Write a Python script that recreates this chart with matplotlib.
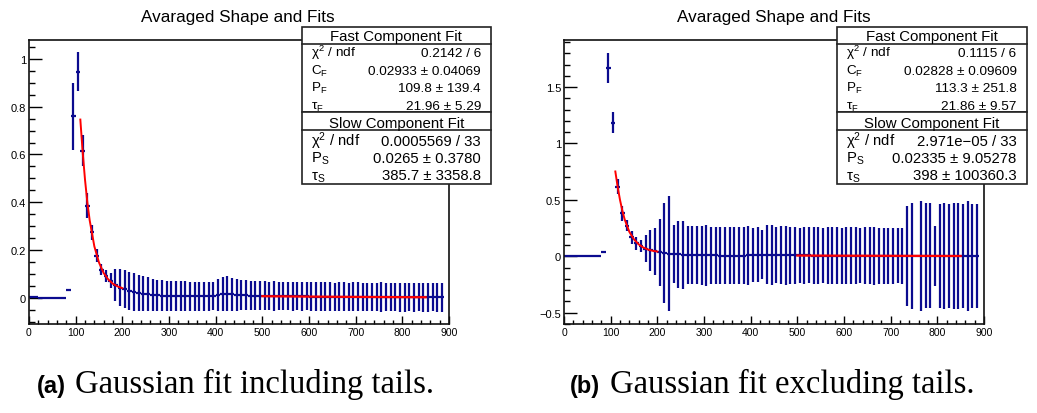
import numpy as np
import matplotlib
matplotlib.use('Agg')
import matplotlib.pyplot as plt
from matplotlib.patches import Rectangle
from matplotlib.lines import Line2D
from matplotlib.ticker import MultipleLocator, FuncFormatter

plt.rcParams['font.family'] = ['Liberation Sans', 'DejaVu Sans']
plt.rcParams['mathtext.default'] = 'regular'

W, H = 1037, 414

##########
# data
##########

# histogram bins of width 10, centres 5 .. 885
bin_centers = np.arange(5, 890, 10)

left_vals = [0.006, 0.005, 0.001, 0.0005, 0.0, 0.0, 0.0, 0.0, 0.035,
             0.759, 0.947, 0.616, 0.386, 0.275, 0.176, 0.118, 0.092, 0.072,
             0.053, 0.043, 0.036, 0.030, 0.025, 0.021, 0.018, 0.015, 0.013, 0.011, 0.010, 0.009,
             0.009, 0.008, 0.008, 0.008, 0.007, 0.007, 0.007, 0.007, 0.007, 0.008,
             0.012, 0.017, 0.017, 0.015, 0.013, 0.012, 0.011, 0.010, 0.010, 0.009,
             0.009, 0.009, 0.008, 0.008, 0.008, 0.008, 0.007, 0.007, 0.007, 0.007,
             0.006, 0.006, 0.006, 0.006, 0.006, 0.005, 0.005, 0.005, 0.005, 0.005,
             0.005, 0.005, 0.004, 0.004, 0.004, 0.004, 0.004, 0.004, 0.004, 0.003,
             0.003, 0.003, 0.003, 0.003, 0.003, 0.003, 0.003, 0.003, 0.003]
left_errs = [0, 0, 0, 0, 0, 0, 0, 0, 0,
             0.14, 0.08, 0.066, 0.052, 0.032, 0.027, 0.022, 0.025, 0.032,
             0.066, 0.078, 0.080, 0.080, 0.078, 0.076, 0.074, 0.071, 0.068, 0.066, 0.064, 0.063,
             0.062, 0.062, 0.061, 0.061, 0.060, 0.060, 0.060, 0.060, 0.060, 0.060,
             0.066, 0.071, 0.073, 0.068, 0.066, 0.064, 0.063, 0.062, 0.062, 0.061,
             0.060, 0.059, 0.061, 0.060, 0.058, 0.060, 0.061, 0.059, 0.060, 0.058,
             0.060, 0.061, 0.059, 0.060, 0.060, 0.058, 0.061, 0.060, 0.059, 0.060,
             0.061, 0.058, 0.060, 0.059, 0.060, 0.061, 0.060, 0.058, 0.059, 0.061,
             0.060, 0.059, 0.060, 0.058, 0.060, 0.061, 0.059, 0.060, 0.060]

right_vals = [0.006, 0.004, 0.001, 0.0, 0.0, 0.0, 0.0, 0.0, 0.035,
              1.67, 1.185, 0.618, 0.381, 0.272, 0.170, 0.115, 0.090, 0.068,
              0.053, 0.043, 0.035, 0.029, 0.024, 0.020, 0.017, 0.014, 0.012, 0.011, 0.010, 0.009,
              0.008, 0.008, 0.008, 0.007, 0.007, 0.007, 0.007, 0.007, 0.007, 0.008,
              0.011, 0.015, 0.016, 0.014, 0.012, 0.011, 0.010, 0.009, 0.009, 0.008,
              0.008, 0.008, 0.008, 0.007, 0.007, 0.007, 0.007, 0.007, 0.006, 0.006,
              0.006, 0.006, 0.006, 0.006, 0.006, 0.005, 0.005, 0.005, 0.005, 0.005,
              0.005, 0.005, 0.004, 0.004, 0.004, 0.004, 0.004, 0.004, 0.004, 0.003,
              0.003, 0.003, 0.003, 0.003, 0.003, 0.003, 0.003, 0.003, 0.003]
right_errs = [0, 0, 0, 0, 0, 0, 0, 0, 0,
              0.13, 0.095, 0.07, 0.065, 0.05, 0.058, 0.055, 0.056, 0.12,
              0.18, 0.21, 0.30, 0.44, 0.51, 0.255, 0.30, 0.30, 0.255, 0.26, 0.258, 0.26,
              0.27, 0.25, 0.25, 0.255, 0.255, 0.255, 0.252, 0.255, 0.25, 0.265,
              0.24, 0.245, 0.215, 0.26, 0.265, 0.25, 0.255, 0.26, 0.255, 0.25,
              0.245, 0.25, 0.248, 0.255, 0.25, 0.245, 0.25, 0.255, 0.25, 0.248,
              0.25, 0.255, 0.25, 0.245, 0.25, 0.252, 0.255, 0.25, 0.248, 0.25,
              0.25, 0.245, 0.25, 0.445, 0.47, 0.0, 0.49, 0.465, 0.465, 0.27,
              0.465, 0.47, 0.465, 0.47, 0.47, 0.465, 0.49, 0.465, 0.465]

# fit curves
fast_x = [110, 115, 120, 125, 130, 140, 150, 160, 170, 180, 190, 200]
left_fast_y = [0.746, 0.610, 0.495, 0.400, 0.325, 0.216, 0.148, 0.104, 0.077, 0.059, 0.048, 0.041]
right_fast_y = [0.752, 0.615, 0.500, 0.405, 0.327, 0.217, 0.150, 0.106, 0.078, 0.060, 0.049, 0.042]
slow_x = [500, 600, 700, 800, 850]
left_slow_y = [0.0073, 0.0056, 0.0043, 0.0033, 0.0029]
right_slow_y = [0.0067, 0.0054, 0.0043, 0.0034, 0.0028]

# stat boxes
fast_labels = ['χ$^{2}$ / ndf', 'C$_{F}$', 'P$_{F}$', 'τ$_{F}$']
slow_labels = ['χ$^{2}$ / ndf', 'P$_{S}$', 'τ$_{S}$']
left_fast_values = ['0.2142 / 6', '0.02933 ± 0.04069', '109.8 ± 139.4', '21.96 ± 5.29']
left_slow_values = ['0.0005569 / 33', '0.0265 ± 0.3780', '385.7 ± 3358.8']
right_fast_values = ['0.1115 / 6', '0.02828 ± 0.09609', '113.3 ± 251.8', '21.86 ± 9.57']
right_slow_values = ['2.971e\u221205 / 33', '0.02335 ± 9.05278', '398 ± 100360.3']

title = 'Avaraged Shape and Fits'
captions = [('(a)', 'Gaussian fit including tails.'), ('(b)', 'Gaussian fit excluding tails.')]

NAVY = '#0b0b8f'


def fx(px):
    return px / W


def fy(py):
    return 1 - py / H


def tick_fmt(v, pos):
    if abs(v) < 1e-9:
        return '0'
    return ('%g' % v).replace('-', '\u2212')


def draw_panel(ax, vals, errs, fast_y, slow_y, ylim, major, minor):
    ax.errorbar(bin_centers, vals, xerr=5, yerr=errs, fmt='none', ecolor=NAVY,
                elinewidth=1.6, capsize=0, zorder=2)
    ax.plot(fast_x, fast_y, color='red', lw=1.4, zorder=3)
    ax.plot(slow_x, slow_y, color='red', lw=1.6, zorder=3)
    ax.set_xlim(0, 900)
    ax.set_ylim(*ylim)
    ax.xaxis.set_major_locator(MultipleLocator(100))
    ax.xaxis.set_minor_locator(MultipleLocator(20))
    ax.yaxis.set_major_locator(MultipleLocator(major))
    ax.yaxis.set_minor_locator(MultipleLocator(minor))
    ax.yaxis.set_major_formatter(FuncFormatter(tick_fmt))
    ax.xaxis.set_major_formatter(FuncFormatter(tick_fmt))
    ax.tick_params(axis='y', which='major', direction='in', length=9.1, width=1.0, labelsize=8, pad=2)
    ax.tick_params(axis='y', which='minor', direction='in', length=4.5, width=1.0)
    ax.tick_params(axis='x', which='major', direction='in', length=6.0, width=1.0, labelsize=7.5, pad=2.5)
    ax.tick_params(axis='x', which='minor', direction='in', length=3.0, width=1.0)
    for sp in ax.spines.values():
        sp.set_linewidth(1.2)
        sp.set_color('#111111')


def draw_stats(fig, x0, fast_values, slow_values):
    x1 = x0 + 189.3
    box_kw = dict(transform=fig.transFigure, facecolor='white', edgecolor='#222222', lw=1.2, zorder=5)
    fig.add_artist(Rectangle((fx(x0), fy(113.3)), fx(x1) - fx(x0), fy(28) - fy(113.3), **box_kw))
    fig.add_artist(Rectangle((fx(x0), fy(185)), fx(x1) - fx(x0), fy(113.3) - fy(185), **box_kw))
    for yy in (45.3, 131):
        fig.add_artist(Line2D([fx(x0), fx(x1)], [fy(yy), fy(yy)], transform=fig.transFigure,
                              color='#222222', lw=1.2, zorder=6))
    xc = (x0 + x1) / 2
    fig.text(fx(xc), fy(40.7), 'Fast Component Fit', ha='center', va='baseline', fontsize=10.8, zorder=7)
    fig.text(fx(xc), fy(127.7), 'Slow Component Fit', ha='center', va='baseline', fontsize=10.8, zorder=7)
    for lab, val, yb in zip(fast_labels, fast_values, [57.3, 74.8, 92.2, 109.5]):
        fig.text(fx(x0 + 9), fy(yb), lab, ha='left', va='baseline', fontsize=9.7, zorder=7)
        fig.text(fx(x1 - 10), fy(yb), val, ha='right', va='baseline', fontsize=9.7, zorder=7)
    for lab, val, yb in zip(slow_labels, slow_values, [145.7, 163, 180.5]):
        fig.text(fx(x0 + 9), fy(yb), lab, ha='left', va='baseline', fontsize=10.7, zorder=7)
        fig.text(fx(x1 - 10), fy(yb), val, ha='right', va='baseline', fontsize=10.7, zorder=7)


fig = plt.figure(figsize=(W / 100, H / 100), dpi=100)

ax1 = fig.add_axes([fx(29), fy(325), 420 / W, 284.3 / H])
ax2 = fig.add_axes([fx(564), fy(325), 420 / W, 284.3 / H])

draw_panel(ax1, left_vals, left_errs, left_fast_y, left_slow_y, (-0.109, 1.08), 0.2, 0.05)
draw_panel(ax2, right_vals, right_errs, right_fast_y, right_slow_y, (-0.6, 1.92), 0.5, 0.1)

for xc in (238.3, 774):
    fig.text(fx(xc), fy(22), title, ha='center', va='baseline', fontsize=12.3)

draw_stats(fig, 301.7, left_fast_values, left_slow_values)
draw_stats(fig, 837.3, right_fast_values, right_slow_values)

# captions below the panels
for (lab, txt), xl, xt in zip(captions, (37, 570), (75, 610)):
    fig.text(fx(xl), fy(393), lab, ha='left', va='baseline', fontsize=17,
             fontweight='bold', family=['Liberation Sans', 'DejaVu Sans'])
    fig.text(fx(xt), fy(393), txt, ha='left', va='baseline', fontsize=23.5,
             family=['Liberation Serif', 'DejaVu Serif'])

fig.savefig('out.png', dpi=100)
